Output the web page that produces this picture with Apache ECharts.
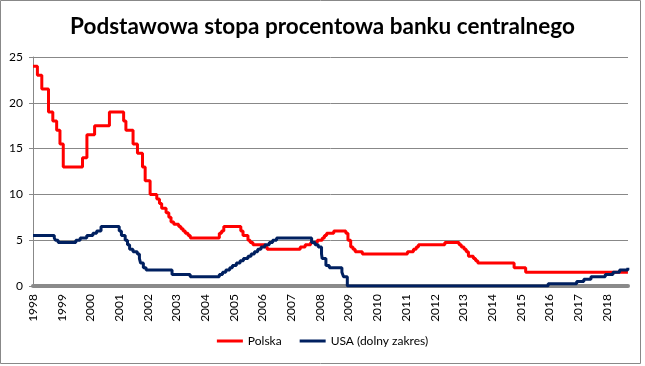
<!DOCTYPE html>
<html><head><meta charset="utf-8">
<script src="https://cdn.jsdelivr.net/npm/echarts@6/dist/echarts.min.js"></script>
<style>html,body{margin:0;padding:0;background:#fff}#c{width:645px;height:366px}</style>
</head><body><div id="c"></div>
<script>
const titleText = 'Podstawowa stopa procentowa banku centralnego';
const seriesNames = ['Polska', 'USA (dolny zakres)'];
const yearTicks = [1998, 2018.74];

const plDates = ['1998-01-01','1998-02-26','1998-04-23','1998-07-17','1998-09-10','1998-10-29','1998-12-10','1999-01-21','1999-09-23','1999-11-18','2000-02-24','2000-08-31','2001-02-28','2001-03-29','2001-06-28','2001-08-23','2001-10-26','2001-11-29','2002-01-31','2002-04-26','2002-05-30','2002-06-27','2002-08-22','2002-09-26','2002-10-24','2002-11-28','2003-01-30','2003-02-27','2003-03-27','2003-04-24','2003-05-29','2003-06-26','2004-06-30','2004-07-29','2004-08-26','2005-03-31','2005-04-28','2005-06-30','2005-07-28','2005-09-01','2006-01-31','2006-03-01','2007-04-26','2007-06-28','2007-09-06','2007-11-29','2008-01-31','2008-02-28','2008-03-27','2008-06-26','2008-11-27','2008-12-24','2009-01-28','2009-02-26','2009-03-26','2009-06-25','2011-01-20','2011-04-06','2011-05-12','2011-06-09','2012-05-10','2012-11-08','2012-12-06','2013-01-10','2013-02-07','2013-03-07','2013-05-09','2013-06-06','2013-07-04','2014-10-09','2015-03-05','2018-09-27'];
const plValues = [24.0,23.0,21.5,19.0,18.0,17.0,15.5,13.0,14.0,16.5,17.5,19.0,18.0,17.0,15.5,14.5,13.0,11.5,10.0,9.5,9.0,8.5,8.0,7.5,7.0,6.75,6.5,6.25,6.0,5.75,5.5,5.25,5.75,6.0,6.5,6.0,5.5,5.0,4.75,4.5,4.25,4.0,4.25,4.5,4.75,5.0,5.25,5.5,5.75,6.0,5.75,5.0,4.25,4.0,3.75,3.5,3.75,4.0,4.25,4.5,4.75,4.5,4.25,4.0,3.75,3.25,3.0,2.75,2.5,2.0,1.5,1.5];

const usDates = ['1998-01-01','1998-09-29','1998-10-15','1998-11-17','1999-06-30','1999-08-24','1999-11-16','2000-02-02','2000-03-21','2000-05-16','2001-01-03','2001-01-31','2001-03-20','2001-04-18','2001-05-15','2001-06-27','2001-08-21','2001-09-17','2001-10-02','2001-11-06','2001-12-11','2002-11-06','2003-06-25','2004-06-30','2004-08-10','2004-09-21','2004-11-10','2004-12-14','2005-02-02','2005-03-22','2005-05-03','2005-06-30','2005-08-09','2005-09-20','2005-11-01','2005-12-13','2006-01-31','2006-03-28','2006-05-10','2006-06-29','2007-09-18','2007-10-31','2007-12-11','2008-01-22','2008-01-30','2008-03-18','2008-04-30','2008-10-08','2008-10-29','2008-12-16','2015-12-16','2016-12-14','2017-03-15','2017-06-14','2017-12-13','2018-03-21','2018-06-13','2018-09-26','2018-09-27'];
const usValues = [5.5,5.25,5.0,4.75,5.0,5.25,5.5,5.75,6.0,6.5,6.0,5.5,5.0,4.5,4.0,3.75,3.5,3.0,2.5,2.0,1.75,1.25,1.0,1.25,1.5,1.75,2.0,2.25,2.5,2.75,3.0,3.25,3.5,3.75,4.0,4.25,4.5,4.75,5.0,5.25,4.75,4.5,4.25,3.5,3.0,2.25,2.0,1.5,1.0,0.0,0.25,0.5,0.75,1.0,1.25,1.5,1.75,2.0,2.0];

function yr(s){const [y,m,d]=s.split('-').map(Number);const t=Date.UTC(y,m-1,d),a=Date.UTC(y,0,1),b=Date.UTC(y+1,0,1);return y+(t-a)/(b-a);}
const pl = plDates.map((d,i)=>[yr(d),plValues[i]]);
const us = usDates.map((d,i)=>[yr(d),usValues[i]]);

const font = 'Lato, "Open Sans", sans-serif';
const chart = echarts.init(document.getElementById('c'));
chart.setOption({
  animation:false,
  textStyle:{fontFamily:font},
  title:{text:titleText,left:'center',top:10,textStyle:{fontFamily:font,fontSize:22.5,fontWeight:'bold',color:'#000'}},
  grid:{left:33,right:17,top:57,bottom:80},
  xAxis:{type:'value',min:yearTicks[0],max:yearTicks[1],interval:1,offset:2,
    axisLine:{lineStyle:{color:'#8a8a8a',width:4}},
    axisTick:{show:false},splitLine:{show:false},
    axisLabel:{rotate:90,margin:6,fontSize:12,color:'#000',fontFamily:font,
      formatter:v=>Number.isInteger(v)?String(v):''}},
  yAxis:{type:'value',min:0,max:25,interval:5,
    axisLine:{show:true,lineStyle:{color:'#888',width:1}},
    axisTick:{show:true,length:4,lineStyle:{color:'#888'}},
    splitLine:{lineStyle:{color:'#888',width:1}},
    axisLabel:{margin:10,fontSize:12,color:'#000',fontFamily:font}},
  legend:{bottom:14,left:'center',icon:'rect',itemWidth:26,itemHeight:3,itemGap:18,
    textStyle:{fontSize:12,color:'#000',fontFamily:font},data:seriesNames},
  series:[
    {name:seriesNames[0],type:'line',step:'end',data:pl,showSymbol:false,color:'#ff0000',lineStyle:{width:3,color:'#ff0000'},z:3},
    {name:seriesNames[1],type:'line',step:'end',data:us,showSymbol:false,color:'#002060',lineStyle:{width:3,color:'#002060'},z:4}
  ],
  graphic:[{type:'rect',shape:{x:0.5,y:0.5,width:640,height:363},style:{fill:'none',stroke:'#888',lineWidth:1},silent:true}]
});
</script></body></html>
